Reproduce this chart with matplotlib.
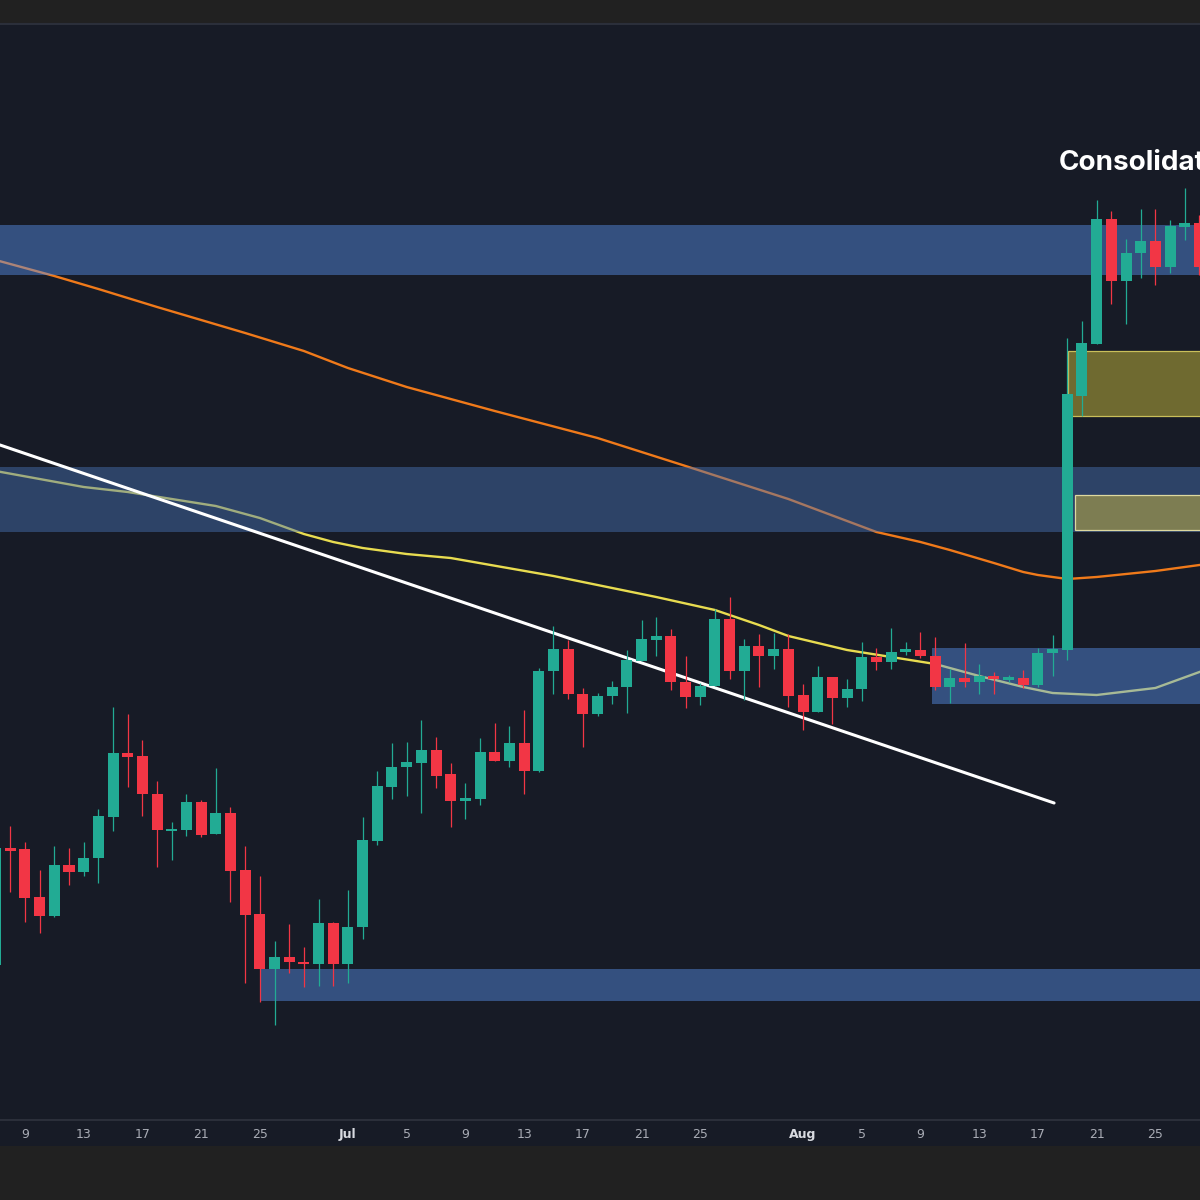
import matplotlib
matplotlib.use("Agg")
import matplotlib.pyplot as plt
import matplotlib.dates as mdates
import pandas as pd
from matplotlib.patches import Rectangle

# daily candles, Jun 7 -> Aug 28
dates = pd.date_range("2024-06-07", "2024-08-28", freq="D")

opens = [23.5, 35.2, 35.1, 30.3, 28.4, 33.5, 32.8, 34.2, 38.3, 44.7, 44.4, 40.6, 36.9, 37.0, 39.8, 36.6,
         38.7, 33.0, 28.6, 23.1, 24.3, 23.8, 23.6, 27.7,
         23.6, 27.3, 35.9, 41.3, 43.3, 43.7, 45.0, 42.6, 39.9, 40.1, 44.8, 43.9, 45.7, 42.9, 52.9, 55.1,
         50.6, 48.6, 50.4, 51.3, 53.9, 56.0, 56.4, 51.8, 50.3, 51.4, 58.1, 52.9, 55.4, 54.4, 55.1,
         50.5, 48.8, 52.3, 50.2, 51.1, 54.3, 53.8, 54.8, 55.0, 54.4, 51.3, 52.2, 51.8, 52.4, 52.0, 52.2,
         51.5, 54.7, 55.0, 80.4, 85.6, 98.1, 91.9, 94.7, 95.9, 93.3, 97.3, 97.7]
highs = [35.5, 37.4, 35.8, 33.0, 35.4, 35.2, 35.8, 39.1, 49.3, 48.6, 46.0, 41.9, 37.8, 40.6, 40.0, 43.2,
         39.3, 35.4, 32.4, 25.9, 27.6, 25.3, 30.1, 27.8,
         31.0, 38.3, 42.9, 45.7, 45.8, 48.0, 46.3, 43.7, 41.7, 46.2, 47.7, 47.4, 49.0, 53.2, 57.4, 56.0,
         51.2, 50.7, 51.9, 55.0, 58.0, 58.3, 57.1, 54.4, 51.7, 59.1, 60.3, 56.1, 56.6, 56.7, 56.6,
         51.6, 53.4, 52.3, 52.1, 55.8, 55.2, 57.2, 55.8, 56.8, 56.3, 53.1, 55.7, 53.6, 52.8, 52.5, 53.0,
         55.2, 56.5, 86.2, 87.9, 100.0, 98.9, 96.1, 99.1, 99.1, 98.0, 101.2, 98.5]
lows = [23.2, 30.8, 27.8, 26.7, 28.3, 31.5, 32.4, 31.7, 36.9, 41.3, 38.4, 33.3, 34.0, 36.4, 36.3, 36.6,
        29.8, 21.7, 19.8, 17.5, 22.7, 21.3, 21.4, 21.4,
        21.7, 26.1, 35.5, 40.1, 40.4, 38.7, 41.2, 37.3, 38.1, 39.5, 43.9, 43.3, 40.6, 42.8, 50.6, 50.1,
        45.3, 48.4, 49.6, 48.7, 53.9, 54.4, 51.0, 49.2, 49.5, 51.4, 52.1, 50.0, 51.3, 53.1, 49.3,
        47.0, 48.8, 47.6, 49.3, 49.9, 53.0, 53.1, 54.5, 54.2, 51.0, 49.7, 51.3, 50.6, 50.6, 51.8, 51.2,
        51.3, 52.4, 54.0, 78.4, 85.6, 89.6, 87.6, 92.2, 91.5, 92.7, 96.0, 92.5]
closes = [35.2, 34.9, 30.2, 28.4, 33.5, 32.8, 34.2, 38.4, 44.7, 44.3, 40.6, 37.0, 37.1, 39.8, 36.5, 38.7,
          32.9, 28.5, 23.1, 24.3, 23.8, 23.6, 27.7, 23.6,
          27.3, 36.0, 41.4, 43.3, 43.8, 45.0, 42.4, 39.9, 40.2, 44.8, 43.9, 45.7, 42.9, 52.9, 55.1, 50.6,
          48.6, 50.4, 51.3, 54.0, 56.1, 56.4, 51.8, 50.3, 51.4, 58.1, 52.9, 55.4, 54.4, 55.1, 50.4,
          48.8, 52.3, 50.2, 51.1, 54.3, 53.8, 54.8, 55.0, 54.4, 51.3, 52.2, 51.8, 52.4, 52.1, 52.2, 51.5,
          54.7, 55.1, 80.6, 85.7, 98.1, 91.9, 94.7, 95.9, 93.3, 97.4, 97.7, 93.3]

# moving averages (day offset from Jun 9, value)
ma_slow_days = [-2, 2, 5, 9, 12, 15, 17, 19, 22, 26, 32, 39, 45, 52, 58, 61, 63, 66, 68, 69, 71, 73, 77, 80]
ma_slow = [94.0, 92.4, 91.1, 89.3, 88.0, 86.7, 85.8, 84.9, 83.2, 81.3, 78.9, 76.2, 73.4, 70.1, 66.8,
           65.8, 65.0, 63.7, 62.8, 62.5, 62.1, 62.3, 62.9, 63.5]
ma_fast_days = [-2, 4, 7, 13, 16, 19, 21, 23, 26, 29, 36, 43, 47, 50, 52, 56, 62, 65, 68, 70, 73, 77, 80]
ma_fast = [72.9, 71.3, 70.8, 69.4, 68.2, 66.6, 65.8, 65.2, 64.6, 64.2, 62.4, 60.3, 59.0, 57.5, 56.4,
           55.0, 53.6, 52.4, 51.3, 50.7, 50.5, 51.2, 52.8]

# zones: (start day offset, low, high)
blue_zones = [(-2, 92.5, 97.5), (-2, 66.8, 73.3), (61.8, 49.6, 55.2), (16.1, 19.9, 23.1)]
blue_colors = ["#5991ec", "#4a74b8", "#5991ec", "#5991ec"]
yellow_zones = [(71.05, 78.4, 84.9), (71.5, 67.0, 70.5)]
yellow_fill = ["#6f6a30", "#7d7d52"]
yellow_edge = ["#c9bf5a", "#ddd9a0"]

trend_days = [-1.7, 70.1]
trend_vals = [75.5, 39.7]

tick_days = [0, 4, 8, 12, 16, 22, 26, 30, 34, 38, 42, 46, 53, 57, 61, 65, 69, 73, 77]
tick_labels = ["9", "13", "17", "21", "25", "Jul", "5", "9", "13", "17", "21", "25",
               "Aug", "5", "9", "13", "17", "21", "25"]

BG = "#171b26"
UP = "#22ab94"
DOWN = "#f23645"

base = mdates.date2num(pd.Timestamp("2024-06-09"))
x = mdates.date2num(dates)

fig = plt.figure(figsize=(12, 12), dpi=100, facecolor="#212121")
fig.patches.append(Rectangle((0, 54 / 1200), 1, 26 / 1200, transform=fig.transFigure,
                             facecolor=BG, edgecolor="none", zorder=-5))
ax = fig.add_axes([0, 80 / 1200, 1, 1096 / 1200])
ax.set_facecolor(BG)

# moving averages (drawn under the zones)
ax.plot([base + d for d in ma_slow_days], ma_slow, color="#f07a1a", lw=1.7, zorder=1,
        solid_joinstyle="round")
ax.plot([base + d for d in ma_fast_days], ma_fast, color="#e8dc50", lw=1.7, zorder=1,
        solid_joinstyle="round")

for (d0, lo, hi), c in zip(blue_zones, blue_colors):
    ax.add_patch(Rectangle((base + d0, lo), 100, hi - lo, facecolor=c, alpha=0.45,
                           edgecolor="none", zorder=2))
for (d0, lo, hi), fc, ec in zip(yellow_zones, yellow_fill, yellow_edge):
    ax.add_patch(Rectangle((base + d0, lo), 100, hi - lo, facecolor=fc,
                           edgecolor=ec, lw=0.9, zorder=3))

ax.plot([base + d for d in trend_days], trend_vals, color="white", lw=2.2,
        solid_capstyle="round", zorder=4)

colors = [UP if c >= o else DOWN for o, c in zip(opens, closes)]
bottoms = [min(o, c) for o, c in zip(opens, closes)]
heights = [max(abs(c - o), 0.25) for o, c in zip(opens, closes)]
ax.vlines(x, lows, highs, colors=colors, lw=0.9, zorder=5)
ax.bar(x, heights, bottom=bottoms, width=0.75, color=colors, edgecolor="none", zorder=6)

ax.text(base + 70.4, 103.7, "Consolidation", color="white", fontsize=20, fontweight="bold",
        family=["Inter", "DejaVu Sans"], ha="left", va="center", zorder=7)

ax.set_xlim(base - 1.7, base + 80.04)
ax.set_ylim(8.0, 117.6)
ax.set_yticks([])
ax.set_xticks([base + d for d in tick_days])
ax.set_xticklabels(tick_labels)
ax.tick_params(axis="x", length=0, pad=6, labelsize=9, colors="#a9acb5")
for lbl in ax.get_xticklabels():
    if lbl.get_text() in ("Jul", "Aug"):
        lbl.set_color("#d8dae0")
        lbl.set_fontweight("bold")
for side in ["left", "right"]:
    ax.spines[side].set_visible(False)
for side in ["top", "bottom"]:
    ax.spines[side].set_color("#2b2f3a")
    ax.spines[side].set_linewidth(1.5)

fig.savefig("out.png", dpi=100, facecolor=fig.get_facecolor())
